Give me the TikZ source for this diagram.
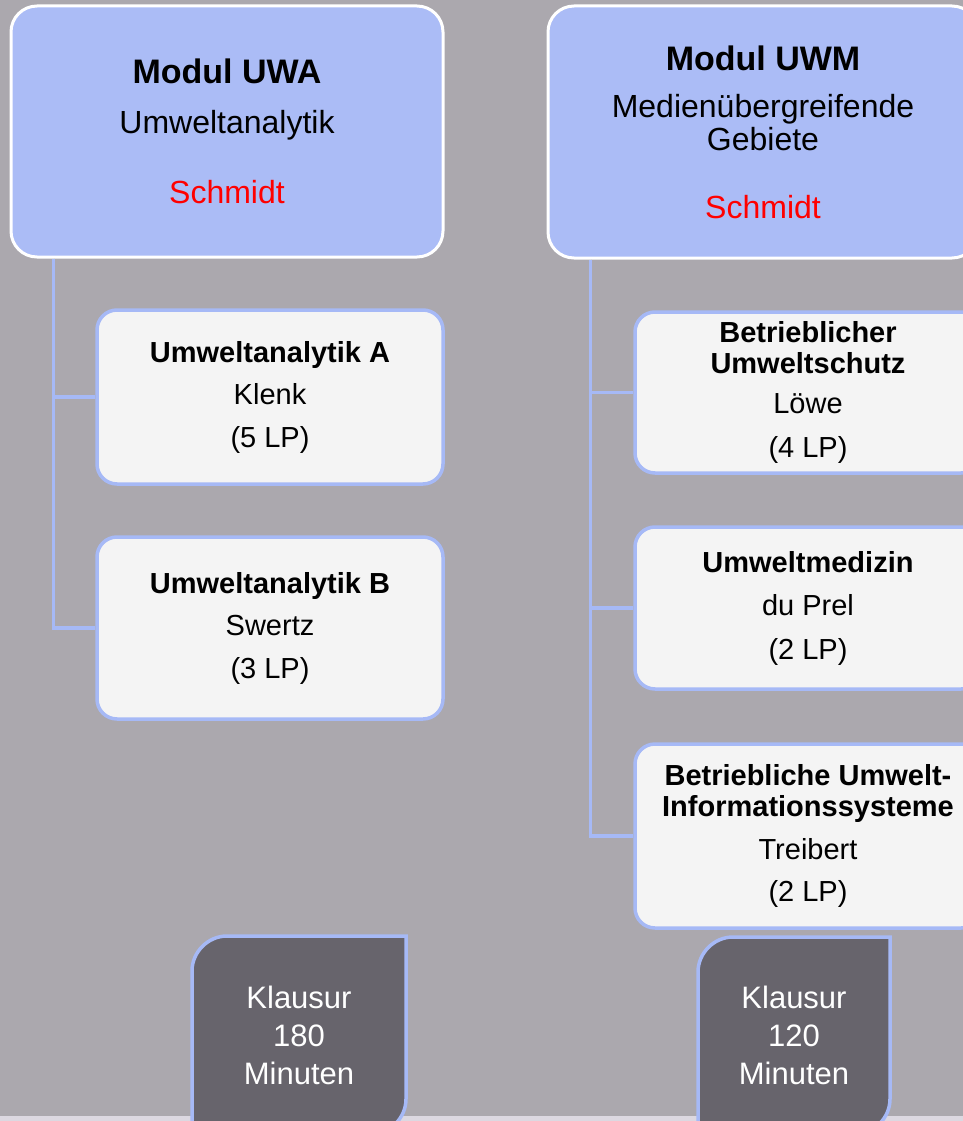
\documentclass[tikz,border=0pt]{standalone}
\usepackage{fontspec}
\setmainfont{Liberation Sans}
\usepackage{xcolor}
\usetikzlibrary{shapes,arrows}
\definecolor{hgrund}{RGB}{171,168,174}
\definecolor{streifen}{RGB}{220,216,225}
\definecolor{modfill}{RGB}{171,188,246}
\definecolor{linie}{RGB}{166,185,246}
\definecolor{subfill}{RGB}{244,244,244}
\definecolor{klausfill}{RGB}{103,100,108}
\newcommand{\modtitel}[1]{{\fontsize{34}{33}\selectfont\textbf{#1}}}

\begin{document}
\begin{tikzpicture}[x=1pt,y=-1pt,
    modul/.style={rectangle, rounded corners=26pt, fill=modfill, draw=white, line width=3pt,
      align=center, font=\fontsize{32}{33}\selectfont},
    fach/.style={rectangle, rounded corners=20pt, fill=subfill, draw=linie, line width=3.5pt,
      minimum width=346pt, align=center, font=\fontsize{29}{31}\selectfont},
    verbind/.style={draw=linie, line width=3.5pt},
    klausbox/.style={fill=klausfill, draw=linie, line width=3.5pt},
    pruefung/.style={align=center, text=white, font=\fontsize{31}{38}\selectfont}]
        \useasboundingbox (0,0) rectangle (963,1121);
        \clip (0,0) rectangle (963,1121);
        \fill[hgrund] (0,0) rectangle (963,1121); % hintergrund
        \fill[streifen] (0,1116) rectangle (963,1121);
        % module
        \node[modul, minimum width=432pt, minimum height=251pt] (modA) at (227,131.5)
          {\modtitel{Modul UWA}\\[17pt] Umweltanalytik\\[37pt] \textcolor{red}{Schmidt}};
        \node[modul, minimum width=430pt, minimum height=252pt] (modM) at (763,132)
          {\modtitel{Modul UWM}\\[14pt] Medienübergreifende\\ Gebiete\\[35pt] \textcolor{red}{Schmidt}};
        % faecher links
        \node[fach, minimum height=174pt] (subA) at (270,397)
          {\textbf{Umweltanalytik A}\\[11pt] Klenk\\[12pt] (5 LP)};
        \node[fach, minimum height=182pt] (subB) at (270,628)
          {\textbf{Umweltanalytik B}\\[11pt] Swertz\\[12pt] (3 LP)};
        % faecher rechts
        \node[fach, minimum height=161pt] (betrieb) at (808,392.5)
          {\textbf{Betrieblicher}\\ \textbf{Umweltschutz}\\[9pt] Löwe\\[13pt] (4 LP)};
        \node[fach, minimum height=162pt] (medizin) at (808,608)
          {\textbf{Umweltmedizin}\\[12pt] du Prel\\[13pt] (2 LP)};
        \node[fach, minimum height=184pt] (infosys) at (808,836)
          {\textbf{Betriebliche Umwelt-}\\ \textbf{Informationssysteme}\\[12pt] Treibert\\[11pt] (2 LP)};
        \foreach \s in {subA,subB}
        \draw[verbind] ([xshift=44pt]modA.south west) |- (\s.west);
        \foreach \s in {betrieb,medizin,infosys}
        \draw[verbind] ([xshift=44pt]modM.south west) |- (\s.west);
        % klausuren
        \draw[klausbox] (406,936) -- (406,1099) .. controls (406,1118) and (390,1134) .. (371,1134)
          -- (192,1134) -- (192,971) .. controls (192,952) and (208,936) .. (227,936) -- cycle;
        \node[pruefung] (klausA) at (299,1035) {Klausur\\ 180\\ Minuten};
        \draw[klausbox] (890,937) -- (890,1099) .. controls (890,1118) and (874,1134) .. (855,1134)
          -- (698,1134) -- (698,972) .. controls (698,953) and (714,937) .. (733,937) -- cycle;
        \node[pruefung] (klausM) at (794,1035) {Klausur\\ 120\\ Minuten};
\end{tikzpicture}
\end{document}
